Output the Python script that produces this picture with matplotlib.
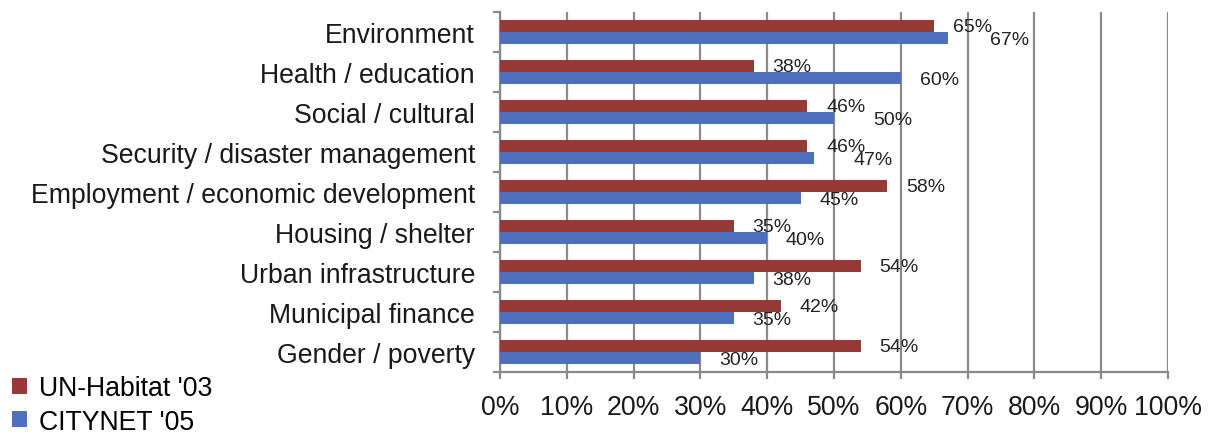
import numpy as np
import matplotlib.pyplot as plt
from matplotlib.ticker import PercentFormatter

plt.rcParams['font.family'] = ['Liberation Sans', 'DejaVu Sans']

# data (top to bottom as in the chart)
categories = ["Environment", "Health / education", "Social / cultural",
              "Security / disaster management", "Employment / economic development",
              "Housing / shelter", "Urban infrastructure", "Municipal finance",
              "Gender / poverty"]
un_habitat = [65, 38, 46, 46, 58, 35, 54, 42, 54]
citynet = [67, 60, 50, 47, 45, 40, 38, 35, 30]
series_names = ["UN-Habitat '03", "CITYNET '05"]
xticks = [0, 10, 20, 30, 40, 50, 60, 70, 80, 90, 100]

# extra horizontal nudge (points) for blue labels that were moved to avoid overlap
blue_nudge = [17, 0, 15, 15, 0, 0, 0, 0, 0]

red = '#963a37'
blue = '#4e6fbd'
grid_col = '#8a8a8a'

fig = plt.figure(figsize=(12.1, 4.35), dpi=100)
ax = fig.add_axes([0.4132, 0.1425, 0.9653 - 0.4132, 0.9700 - 0.1425])

n = len(categories)
y = np.arange(n)
h = 0.29
ax.barh(y - h / 2, un_habitat, height=h, color=red, label=series_names[0], zorder=3)
ax.barh(y + h / 2, citynet, height=h, color=blue, label=series_names[1], zorder=3)

for i in range(n):
    ax.annotate(f"{un_habitat[i]}%", (un_habitat[i], y[i] - h / 2), xytext=(13.5, 0),
                textcoords='offset points', va='center', ha='left', fontsize=14,
                color='#222222', zorder=4)
    ax.annotate(f"{citynet[i]}%", (citynet[i], y[i] + h / 2), xytext=(13.5 + blue_nudge[i], -1),
                textcoords='offset points', va='center', ha='left', fontsize=14,
                color='#222222', zorder=4)

ax.set_ylim(n - 0.5, -0.5)
ax.set_xlim(0, 100)
ax.set_xticks(xticks)
ax.xaxis.set_major_formatter(PercentFormatter(decimals=0))
ax.set_yticks(y)
ax.set_yticklabels(categories)
ax.set_yticks(np.arange(n + 1) - 0.5, minor=True)

ax.grid(axis='x', color=grid_col, linewidth=1.6, zorder=0)
for s in ['top', 'right']:
    ax.spines[s].set_visible(False)
for s in ['left', 'bottom']:
    ax.spines[s].set_color(grid_col)
    ax.spines[s].set_linewidth(1.6)

ax.tick_params(axis='y', which='major', length=0, pad=18, labelsize=19.2, labelcolor='#1a1a1a')
ax.tick_params(axis='y', which='minor', length=5, width=1.6, color=grid_col)
ax.tick_params(axis='x', length=5, width=1.6, color=grid_col, pad=11, labelsize=19.2,
               labelcolor='#1a1a1a')

fig.legend(loc='upper left', bbox_to_anchor=(-0.003, 0.172), frameon=False, fontsize=19.2,
           handlelength=0.55, handleheight=0.55, handletextpad=0.45, labelspacing=0.28,
           borderaxespad=0.2)

fig.savefig('out.png', dpi=100)
